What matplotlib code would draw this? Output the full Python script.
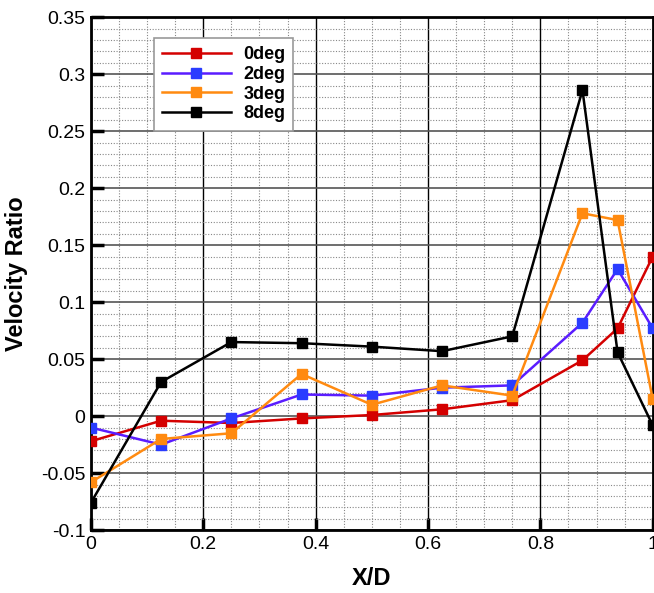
import matplotlib
matplotlib.use("Agg")
import matplotlib.pyplot as plt
from matplotlib.ticker import MultipleLocator, FuncFormatter

plt.rcParams['font.family'] = ['Liberation Sans', 'DejaVu Sans']

x = [0, 0.125, 0.25, 0.375, 0.5, 0.625, 0.75, 0.875, 0.9375, 1.0]
deg0 = [-0.022, -0.004, -0.006, -0.002, 0.001, 0.006, 0.014, 0.049, 0.077, 0.140]
deg2 = [-0.010, -0.025, -0.002, 0.019, 0.018, 0.025, 0.027, 0.082, 0.129, 0.077]
deg3 = [-0.058, -0.020, -0.015, 0.037, 0.010, 0.027, 0.018, 0.178, 0.172, 0.015]
deg8 = [-0.076, 0.030, 0.065, 0.064, 0.061, 0.057, 0.070, 0.286, 0.056, -0.008]

series = [("0deg", deg0, "#d40000"), ("2deg", deg2, "#5a1cff"),
          ("3deg", deg3, "#ff8a10"), ("8deg", deg8, "#000000")]
marker_colors = {"0deg": "#d40000", "2deg": "#2a3cff", "3deg": "#ff8a10", "8deg": "#000000"}

fig = plt.figure(figsize=(6.54, 5.93), dpi=100)
ax = fig.add_axes([0.139, 0.106, 0.859, 0.865])

for name, vals, c in series:
    ax.plot(x, vals, color=c, lw=1.8, marker='s', ms=6.5,
            markerfacecolor=marker_colors[name], markeredgecolor=marker_colors[name],
            label=name, zorder=3)

ax.set_xlim(0, 1)
ax.set_ylim(-0.1, 0.35)
ax.xaxis.set_major_locator(MultipleLocator(0.2))
ax.xaxis.set_minor_locator(MultipleLocator(0.05))
ax.yaxis.set_major_locator(MultipleLocator(0.05))
ax.yaxis.set_minor_locator(MultipleLocator(0.01))
fmt = FuncFormatter(lambda v, p: ("%g" % round(v, 4)))
ax.xaxis.set_major_formatter(fmt)
ax.yaxis.set_major_formatter(fmt)

ax.grid(which='minor', color='#888888', linestyle=(0, (1, 1.5)), lw=0.8, zorder=0)
ax.xaxis.grid(which='major', color='black', linestyle='-', lw=1.0, zorder=1)
ax.yaxis.grid(which='major', color='#555555', linestyle='-', lw=1.2, zorder=1)

ax.tick_params(which='major', direction='in', length=9, width=2.5, labelsize=14, pad=4)
ax.tick_params(which='minor', length=0)
for s in ax.spines.values():
    s.set_linewidth(2)

ax.set_xlabel("X/D", fontsize=17, fontweight='bold', labelpad=10)
ax.set_ylabel("Velocity Ratio", fontsize=17, fontweight='bold', labelpad=9)

leg = ax.legend(loc='upper left', bbox_to_anchor=(0.112, 0.959), borderaxespad=0,
                fancybox=False, framealpha=1, edgecolor='#999999', handlelength=3.8,
                prop={'weight': 'bold', 'size': 13}, borderpad=0.45, labelspacing=0.15,
                handletextpad=0.7)
leg.get_frame().set_linewidth(1.2)

fig.savefig("out.png", dpi=100)
